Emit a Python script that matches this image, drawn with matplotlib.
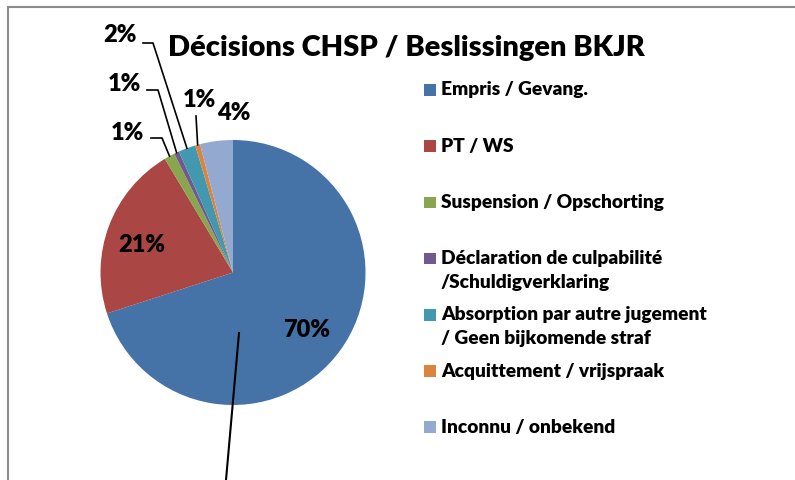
import matplotlib
matplotlib.use('Agg')
import numpy as np
import matplotlib.pyplot as plt
from matplotlib.patches import Rectangle
from matplotlib.lines import Line2D

# data
labels = ['Empris / Gevang.', 'PT / WS', 'Suspension / Opschorting',
          'Déclaration de culpabilité\n/Schuldigverklaring',
          'Absorption par autre jugement\n/ Geen bijkomende straf',
          'Acquittement / vrijspraak', 'Inconnu / onbekend']
values = [70.0, 21.4, 1.3, 0.6, 2.1, 0.6, 4.0]
colors = ['#4572A7', '#AA4643', '#89A54E', '#71588F', '#4198AF', '#DB843D', '#93A9CF']
title = 'Décisions CHSP / Beslissingen BKJR'

plt.rcParams['font.family'] = ['Lato', 'DejaVu Sans']
plt.rcParams['font.weight'] = 'bold'

W, H = 795, 480
fig = plt.figure(figsize=(W / 100, H / 100), dpi=100)

def fx(px):
    return px / W

def fy(py):
    return 1 - py / H

# pie placed with its centre at (233, 272.5) px, radius 132.5 px
cx, cy, R = 233, 272.5, 132.5
half = 150
ax = fig.add_axes([fx(cx - half), fy(cy + half), 2 * half / W, 2 * half / H])

wedges, _ = ax.pie(values, colors=colors, startangle=90, counterclock=False,
                   radius=1, wedgeprops=dict(linewidth=0))
ax.set_xlim(-half / R, half / R)
ax.set_ylim(-half / R, half / R)
ax.axis('off')

def to_data(px, py):
    return (px - cx) / R, (cy - py) / R

pct = [f'{round(v):.0f}%' for v in values]

# labels placed in pixels, leader lines for the small slices
lab_pos = [(307, 330), (142, 245), (127, 133), (124, 84), (120, 35), (199, 100), (234, 113)]
elbow = [None, None, [(151, 138), (162, 138)], [(147, 90), (158, 90)],
         [(143, 43), (153, 43)], [(196, 116)], None]

for i, w in enumerate(wedges):
    x, y = to_data(*lab_pos[i])
    ax.text(x, y, pct[i], ha='center', va='center', fontsize=17, fontweight='heavy',
            color='black')
    if elbow[i] is not None:
        mid = np.deg2rad((w.theta1 + w.theta2) / 2)
        pts = [to_data(*p) for p in elbow[i]] + [(np.cos(mid) * 1.0, np.sin(mid) * 1.0)]
        xs, ys = zip(*pts)
        ax.plot(xs, ys, color='black', linewidth=1.2, clip_on=False)

# stray leader line
fig.add_artist(Line2D([fx(239), fx(226)], [fy(333), fy(480)], color='black', linewidth=1.5))

fig.text(fx(406), fy(48), title, ha='center', va='center', fontsize=21, fontweight='heavy')

# legend
for i, lab in enumerate(labels):
    y0 = 90 + 56.2 * i
    fig.add_artist(Rectangle((fx(424), fy(y0 + 5.75)), 11.5 / W, 11.5 / H,
                             facecolor=colors[i], edgecolor='none'))
    for j, line in enumerate(lab.split('\n')):
        fig.text(fx(441), fy(y0 + 24 * j), line, ha='left', va='center',
                 fontsize=13.8, fontweight='heavy')

# frame
fig.add_artist(Line2D([fx(8), 1], [fy(7), fy(7)], color='#8c8c8c', linewidth=1.5))
fig.add_artist(Line2D([fx(8), fx(8)], [fy(7), 0], color='#8c8c8c', linewidth=1.5))

fig.savefig('out.png', dpi=100)
